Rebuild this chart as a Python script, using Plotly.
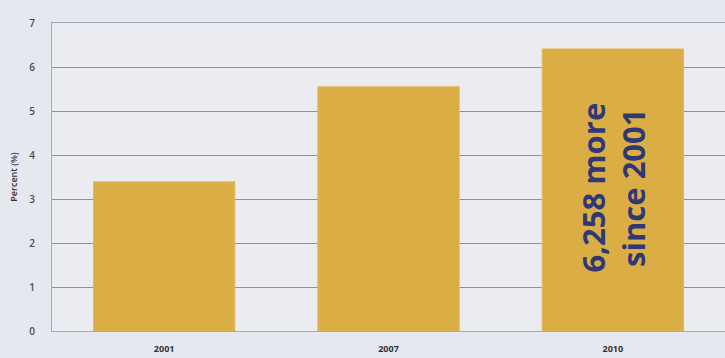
import plotly.graph_objects as go

years = ["2001", "2007", "2010"]
percent = [3.39, 5.55, 6.41]
y_ticks = [0, 1, 2, 3, 4, 5, 6, 7]
callout = "6,258 more<br>since 2001"

bar_color = "#DBAE45"
slots = list(range(len(years)))

fig = go.Figure(
    go.Bar(
        x=slots,
        y=percent,
        width=0.63,
        marker=dict(color=bar_color, line=dict(color="#E3B955", width=1)),
        customdata=years,
        hovertemplate="%{customdata}: %{y}%<extra></extra>",
    )
)

fig.add_annotation(
    x=slots[2],
    y=percent[2] / 2 + 0.05,
    text=callout,
    textangle=-90,
    showarrow=False,
    font=dict(family="Open Sans, DejaVu Sans, sans-serif", size=31, color="#2F3875", weight=700),
    align="center",
)

fig.update_layout(
    width=725,
    height=358,
    margin=dict(l=52, r=0, t=23, b=27),
    paper_bgcolor="#E6E8F0",
    plot_bgcolor="#EAECF2",
    showlegend=False,
    font=dict(family="Open Sans, DejaVu Sans, sans-serif", color="#3A3A3A"),
)

fig.update_yaxes(
    range=[0, 7],
    tickvals=y_ticks,
    tickfont=dict(size=10, color="#4A4A4A", weight=600),
    ticks="outside",
    ticklen=0,
    ticklabelstandoff=14,
    showgrid=True,
    gridcolor="#8E929C",
    gridwidth=1,
    showline=True,
    linecolor="#A6A9B2",
    mirror=True,
    zeroline=False,
    title=dict(text="Percent (%)", font=dict(size=9, color="#333333", weight=600), standoff=10),
)

fig.update_xaxes(
    range=[-0.5, 2.5],
    tickvals=slots,
    ticktext=years,
    tickfont=dict(size=9, color="#333333", weight=700),
    showgrid=False,
    zeroline=False,
    showline=True,
    linecolor="#A6A9B2",
    mirror=True,
    ticklabelstandoff=9,
)

fig.write_html("out.html")
